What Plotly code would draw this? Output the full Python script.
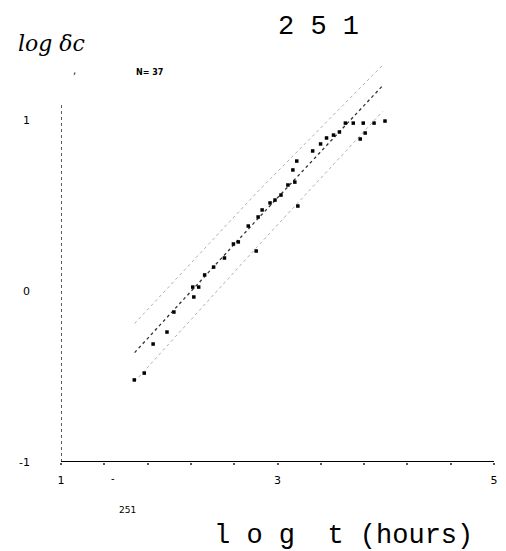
import plotly.graph_objects as go

# ---- data ----
log_t = [1.677, 1.769, 1.851, 1.979, 2.043, 2.217, 2.227, 2.272, 2.327, 2.410,
         2.510, 2.593, 2.638, 2.730, 2.803, 2.821, 2.858, 2.931, 2.977, 3.032,
         3.096, 3.160, 3.142, 3.178, 3.188, 3.325, 3.398, 3.453, 3.517, 3.572,
         3.627, 3.700, 3.792, 3.892, 3.993, 3.810, 3.764]
log_dc = [-0.520, -0.480, -0.310, -0.240, -0.123, 0.023, -0.035, 0.023, 0.094, 0.140,
          0.193, 0.275, 0.287, 0.380, 0.234, 0.433, 0.474, 0.515, 0.532, 0.561,
          0.620, 0.637, 0.708, 0.760, 0.497, 0.819, 0.860, 0.895, 0.912, 0.930,
          0.982, 0.982, 0.982, 0.982, 0.994, 0.924, 0.889]

fit_x = [1.68, 2.80, 3.97]
fit_y = [-0.36, 0.41, 1.20]
band_upper = [-0.19, 0.57, 1.32]
band_lower = [-0.53, 0.25, 1.05]

y_ticks = [-1, 0, 1]
y_ticktext = ["-1", "0", "1"]
x_ticks = [1, 3, 5]
x_ticktext = ["1", "3", "5"]

fig = go.Figure()

fig.add_trace(go.Scatter(x=fit_x, y=band_upper, mode="lines",
                         line=dict(color="#b0b0b0", width=1, dash="dot"),
                         hoverinfo="skip", showlegend=False))
fig.add_trace(go.Scatter(x=fit_x, y=band_lower, mode="lines",
                         line=dict(color="#b0b0b0", width=1, dash="dot"),
                         hoverinfo="skip", showlegend=False))
fig.add_trace(go.Scatter(x=fit_x, y=fit_y, mode="lines",
                         line=dict(color="#333333", width=1.3, dash="dot"),
                         hoverinfo="skip", showlegend=False))
fig.add_trace(go.Scatter(x=log_t, y=log_dc, mode="markers",
                         marker=dict(symbol="square", size=3.5, color="black"),
                         showlegend=False))

# axes lines
fig.add_shape(type="line", xref="x", yref="y", x0=1, x1=1, y0=-1, y1=1.1,
              line=dict(color="#333333", width=1.6, dash="dot"))
fig.add_shape(type="line", xref="x", yref="y", x0=1, x1=5, y0=-1, y1=-1,
              line=dict(color="black", width=2))

fig.update_xaxes(range=[1, 5], showgrid=False, zeroline=False, showline=False,
                 tickvals=x_ticks, ticktext=x_ticktext, ticks="",
                 ticklabelstandoff=10,
                 tickfont=dict(family="DejaVu Sans", size=11, color="black"),
                 minor=dict(dtick=0.4, tick0=1, ticks="outside", ticklen=2,
                            tickcolor="#555555", tickwidth=1.5))
fig.update_yaxes(range=[-1, 1.351], showgrid=False, zeroline=False, showline=False,
                 tickvals=y_ticks, ticktext=y_ticktext, ticks="",
                 ticklabelstandoff=30,
                 tickfont=dict(family="DejaVu Sans", size=11, color="black"))

ann = [
    dict(text="2 5 1", x=0.595, y=1.082, font=dict(family="Liberation Mono", size=27, color="black")),
    dict(text="<i>log δc</i>", x=-0.022, y=1.042, font=dict(family="DejaVu Serif", size=22, color="black")),
    dict(text="<b>N= 37</b>", x=0.204, y=0.968, font=dict(family="DejaVu Sans", size=8, color="black")),
    dict(text=",", x=0.032, y=0.975, font=dict(family="DejaVu Sans", size=10, color="black")),
    dict(text="-", x=0.119, y=-0.042, font=dict(family="DejaVu Sans", size=10, color="black")),
    dict(text="251", x=0.153, y=-0.119, font=dict(family="DejaVu Sans", size=9, color="black")),
    dict(text="l o g  t (hours)", x=0.652, y=-0.185,
         font=dict(family="Liberation Mono", size=27, color="black")),
]
for a in ann:
    fig.add_annotation(xref="paper", yref="paper", showarrow=False,
                       xanchor="center", yanchor="middle", **a)

fig.update_layout(width=506, height=551, margin=dict(l=61, r=8, t=60, b=89),
                  plot_bgcolor="white", paper_bgcolor="white")

fig.write_html("out.html")
